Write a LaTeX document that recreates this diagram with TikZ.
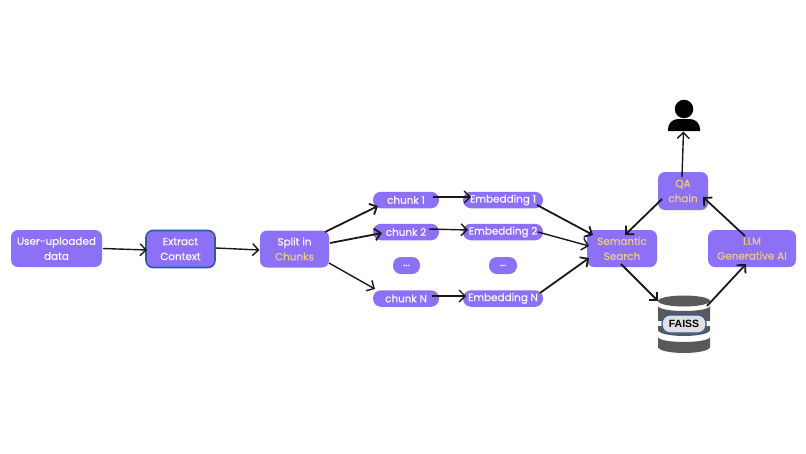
\documentclass[tikz,border=0pt]{standalone}
\usepackage{xcolor}
\usepackage{fontspec}
\usepackage{tikz}
\usetikzlibrary{arrows.meta,calc}
\setmainfont[FakeBold=1]{Poppins}
\newfontfamily\faissfont{Liberation Sans}
\definecolor{boxfill}{HTML}{8C71F6}
\definecolor{boxtext}{HTML}{F8F5FF}
\definecolor{accent}{HTML}{EFC68C}
\definecolor{rimblue}{HTML}{2A5CAA}
\definecolor{discgrey}{HTML}{595959}

\begin{document}
\begin{tikzpicture}[x=1pt,y=-1pt,>={Straight Barb[length=6pt,width=12pt]},
  main node/.style={rounded corners=7pt,fill=boxfill,draw=none,align=center,text=boxtext,
    font=\fontsize{10.4}{15}\selectfont,inner sep=0pt}]

    \tikzstyle{big} = [main node,minimum height=37pt]
    \tikzstyle{small} = [main node,rounded corners=8pt,minimum height=16.5pt,minimum width=66pt]
    \tikzstyle{flow} = [->,line width=1.4pt,black!90]
    \tikzstyle{heavy} = [->,line width=1.8pt,black!90]

  \useasboundingbox (0,0) rectangle (806,453);

  \node[big,minimum width=91pt] (user) at (56.5,248.5) {User-uploaded\\data};
  \node[big,minimum width=69pt,draw=rimblue,line width=1.6pt] (extract) at (180.5,249) {Extract\\Context};
  \node[big,minimum width=69pt] (split) at (294.5,249) {Split in\\\textcolor{accent}{Chunks}};

  \node[small] (chunk1) at (406,200) {chunk 1};
  \node[small] (chunk2) at (406,232) {chunk 2};
  \node[small,minimum width=27pt,minimum height=17pt] (dots1) at (406.5,265.5) {...};
  \node[small] (chunkN) at (406,298.5) {chunk N};

  \node[small,minimum width=80pt] (emb1) at (503,200) {Embedding 1};
  \node[small,minimum width=80pt] (emb2) at (503,232) {Embedding 2};
  \node[small,minimum width=28pt,minimum height=17pt] (dots2) at (503,265.5) {...};
  \node[small,minimum width=80pt] (embN) at (503,298.5) {Embedding N};

  \node[big,minimum width=70pt,text=accent] (search) at (622,248.5) {Semantic\\Search};
  \node[big,minimum width=88pt,text=accent] (llm) at (752,248.5) {LLM\\Generative AI};
  \node[big,minimum width=50pt,minimum height=38pt,text=accent] (qa) at (683,191) {QA\\chain};

  % user icon
  \node[circle,fill=black,minimum size=18.5pt,inner sep=0pt] (head) at (684,109) {};
  \fill[black] (668,131) -- (668,129) arc[start angle=180,end angle=90,radius=10pt] -- (690,119)
    arc[start angle=90,end angle=0,radius=10pt] -- (700,131) -- cycle;
  \coordinate (person) at (683.5,131.5);

  % database icon
  \fill[discgrey] (684,301) ellipse[x radius=26pt,y radius=5.5pt];
  \fill[discgrey] (658,306) arc[start angle=180,end angle=360,x radius=26pt,y radius=5pt] -- (710,330)
    arc[start angle=0,end angle=-180,x radius=26pt,y radius=6pt] -- cycle;
  \fill[discgrey] (658,337) arc[start angle=180,end angle=360,x radius=26pt,y radius=5pt] -- (710,347)
    arc[start angle=0,end angle=-180,x radius=26pt,y radius=6pt] -- cycle;
  \fill[white] (657,321) rectangle (711,326);
  \node[rounded corners=8pt,fill=black!12,draw=rimblue,line width=1.2pt,minimum width=44pt,minimum height=18pt,
    inner sep=0pt,font=\fontsize{10.5}{10.5}\faissfont\bfseries] (faiss) at (684,324) {FAISS};

  \draw[flow] ($(user)+(46.5,0)$) -- ($(extract)+(-33.5,1)$);
  \draw[flow] ($(extract)+(35.5,-1)$) -- ($(split)+(-35,1)$);

  \draw[heavy] ($(split)+(30.5,-17)$) -- ($(chunk1)+(-28,6)$);
  \draw[heavy] ($(split)+(35.5,-6)$) -- ($(chunk2)+(-24,1)$);
  \draw[flow] ($(split)+(34.5,14)$) -- ($(chunkN)+(-31,-9.5)$);

  \draw[flow] ($(chunk1)+(27,-3)$) -- ($(emb1)+(-32,-3)$);
  \draw[flow] ($(chunk2)+(23,-3)$) -- ($(emb2)+(-35,-2)$);
  \draw[flow] ($(chunkN)+(26,-2.5)$) -- ($(embN)+(-37,-2.5)$);

  \draw[heavy] ($(emb1)+(34,5)$) -- ($(search)+(-29,-13.5)$);
  \draw[flow] ($(emb2)+(35,0)$) -- ($(search)+(-33,-2.5)$);
  \draw[heavy] ($(embN)+(37,-5.5)$) -- ($(search)+(-33,9.5)$);

  \draw[heavy] ($(search)+(-1,15.5)$) -- ($(faiss)+(-26,-23)$);
  \draw[heavy] ($(faiss)+(23,-18)$) -- ($(llm)+(-6,15.5)$);
  \draw[heavy] ($(llm)+(-7,-12.5)$) -- ($(qa)+(20,6)$);
  \draw[heavy] ($(qa)+(-21,8)$) -- ($(search)+(3,-13.5)$);
  \draw[flow] ($(qa)+(-1,-14)$) -- (person);

\end{tikzpicture}
\end{document}
